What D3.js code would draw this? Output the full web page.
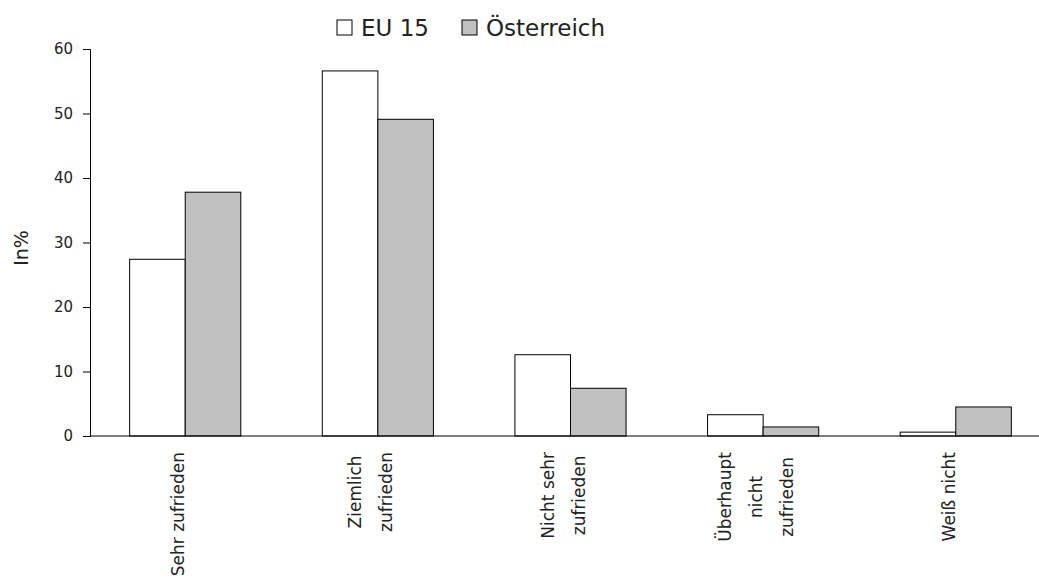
<!DOCTYPE html>
<meta charset="utf-8">
<body style="margin:0;background:#fff">
<script src="https://d3js.org/d3.v7.min.js"></script>
<script>
var width = 1039, height = 580;

// data
var categories = ["Sehr zufrieden", "Ziemlich zufrieden", "Nicht sehr zufrieden", "Überhaupt nicht zufrieden", "Weiß nicht"];
var labelLines = [["Sehr zufrieden"], ["Ziemlich", "zufrieden"], ["Nicht sehr", "zufrieden"], ["Überhaupt", "nicht", "zufrieden"], ["Weiß nicht"]];
var seriesNames = ["EU 15", "Österreich"];
var eu15 = [27.4, 56.6, 12.6, 3.3, 0.6];
var oesterreich = [37.8, 49.1, 7.4, 1.4, 4.5];
var yTicks = [0, 10, 20, 30, 40, 50, 60];
var colors = ["#ffffff", "#c0c0c0"];

var font = "'DejaVu Sans', sans-serif";

var svg = d3.select("body").append("svg")
    .attr("width", width)
    .attr("height", height)
    .style("font-family", font);

var x = d3.scaleBand().domain(categories).range([89, 1052]).paddingInner(0.423).paddingOuter(0.211);
var xs = d3.scaleBand().domain(seriesNames).range([0, x.bandwidth()]);
var y = d3.scaleLinear().domain([0, 60]).range([436, 49]);

var rows = categories.map(function(c, i) { return {cat: c, vals: [eu15[i], oesterreich[i]]}; });

// bars
var g = svg.append("g");
rows.forEach(function(r) {
  r.vals.forEach(function(v, j) {
    g.append("rect")
      .attr("x", x(r.cat) + xs(seriesNames[j]))
      .attr("y", y(v))
      .attr("width", xs.bandwidth())
      .attr("height", y(0) - y(v))
      .attr("fill", colors[j])
      .attr("stroke", "#000")
      .attr("stroke-width", 1);
  });
});

// y axis
var yAxis = svg.append("g")
    .attr("transform", "translate(90,0)")
    .call(d3.axisLeft(y).tickValues(yTicks).tickSize(7).tickPadding(10));
yAxis.select(".domain").attr("stroke", "#000");
yAxis.selectAll("text").style("font-size", "15px").style("font-family", font).attr("fill", "#222");

// x baseline
svg.append("line")
  .attr("x1", 90).attr("x2", width)
  .attr("y1", y(0)).attr("y2", y(0))
  .attr("stroke", "#000");

// category labels, rotated
var lineGap = 31;
rows.forEach(function(r, i) {
  var lines = labelLines[i];
  var cx = x(r.cat) + x.bandwidth() / 2 - 3;
  var lg = svg.append("g");
  var texts = lines.map(function(t) {
    return lg.append("text").text(t)
      .style("font-size", "17px")
      .attr("fill", "#222")
      .attr("text-anchor", "middle");
  });
  var maxLen = d3.max(texts, function(t) { return t.node().getComputedTextLength(); });
  var cy = 452 + maxLen / 2;
  texts.forEach(function(t, k) {
    var lx = cx + (k - (lines.length - 1) / 2) * lineGap + 2;
    t.attr("transform", "translate(" + lx + "," + cy + ") rotate(-90)");
  });
});

// y label
svg.append("text")
  .attr("transform", "translate(28,248) rotate(-90)")
  .attr("text-anchor", "middle")
  .style("font-size", "19px")
  .attr("fill", "#222")
  .text("In%");

// legend
var legendX = [337, 462];
seriesNames.forEach(function(s, j) {
  svg.append("rect")
    .attr("x", legendX[j]).attr("y", 20)
    .attr("width", 15).attr("height", 15)
    .attr("fill", colors[j]).attr("stroke", "#000");
  svg.append("text")
    .attr("x", legendX[j] + 24).attr("y", 36)
    .style("font-size", "23px")
    .attr("fill", "#222")
    .text(s);
});
</script>
</body>
